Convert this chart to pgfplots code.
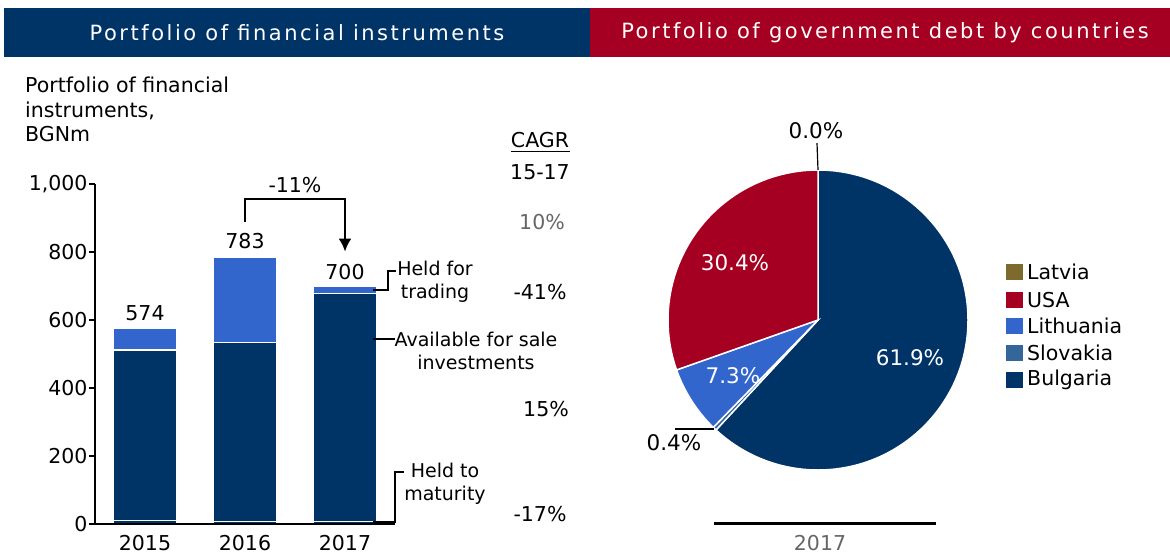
\documentclass[border=0pt]{standalone}
\usepackage{pgfplots}
\pgfplotsset{compat=1.18}
\usepackage{fontspec}
\setmainfont{DejaVu Sans}
\newfontfamily\headfont[LetterSpace=12]{DejaVu Sans}
\usetikzlibrary{arrows.meta}
\definecolor{navy}{HTML}{003366}
\definecolor{crimson}{HTML}{A50021}
\definecolor{lblue}{HTML}{3366CC}
\definecolor{sblue}{HTML}{336699}
\definecolor{olive}{HTML}{7F6A2E}
\definecolor{gtxt}{HTML}{666666}
\newcommand\fs{\fontsize{20.5}{24.5}\selectfont}
\newcommand\fsm{\fontsize{19}{23}\selectfont}
\newcommand\fl{\fontsize{20.5}{24.5}\selectfont}
\begin{document}
\begin{tikzpicture}[x=1pt,y=1pt]
\path (0,0) rectangle (1170,-553);
% headers
\fill[navy] (4,-8) rectangle (590,-57);
\fill[crimson] (590,-8) rectangle (1170,-57);
\node[white] at (297,-33) {\headfont\fontsize{21}{24}\selectfont Portfolio of financial instruments};
\node[white] at (885,-33) {\headfont\fontsize{21}{24}\selectfont Portfolio of government debt by countries};
% y label
\node[anchor=north west, align=left, inner sep=0pt, font=\fl] at (25,-77) {Portfolio of financial\\ instruments,\\ BGNm};
% bar chart
\begin{axis}[at={(95pt,-524pt)}, anchor=south west, scale only axis,
  width=300pt, height=340pt,
  xmin=-0.5, xmax=2.5, ymin=0, ymax=1000,
  ybar stacked, bar width=64pt, clip=false, axis on top,
  axis lines=left, axis line style={line width=2.5pt, -},
  xtick={0,1,2}, xticklabels={2015,2016,2017},
  x tick style={draw=none},
  ytick={0,200,400,600,800,1000},
  y tick style={line width=2pt, black}, tick align=outside, major tick length=6pt,
  /pgf/number format/1000 sep={,},
  /pgf/number format/assume math mode=true,
  tick label style={font=\fs},
  yticklabel style={xshift=2pt},
  xticklabel style={yshift=-2pt},
]
\addplot[fill=navy, draw=white, line width=1.2pt] coordinates {(0,10) (1,8) (2,7)};
\addplot[fill=navy, draw=white, line width=1.2pt] coordinates {(0,502) (1,525) (2,671)};
\addplot[fill=lblue, draw=white, line width=1.2pt] coordinates {(0,62) (1,250) (2,22)};
\node[above=5pt, font=\fs] at (axis cs:0,574) {574};
\node[above=5pt, font=\fs] at (axis cs:1,783) {783};
\node[above=3pt, font=\fs] at (axis cs:2,700) {700};
\draw[line width=2.5pt, -{Latex[length=13pt,width=13pt]}] (axis cs:1,888) |- (axis cs:2,956) -- (axis cs:2,801);
\node[above=3pt, font=\fs] at (axis cs:1.5,956) {-11\%};
\end{axis}
% leaders
\draw[line width=1.3pt] (373,-290) -- (388,-290) -- (388,-271) -- (396,-271);
\node[align=center, inner sep=0pt, font=\fsm] at (435,-282) {Held for\\ trading};
\draw[line width=1.3pt] (373,-339) -- (395,-339);
\node[align=center, inner sep=0pt, font=\fsm] at (476,-351) {Available for sale\\ investments};
\draw[line width=1.3pt] (373,-522) -- (395,-522) -- (395,-472) -- (404,-472);
\node[align=center, inner sep=0pt, font=\fsm] at (445,-484) {Held to\\ maturity};
% CAGR
\node[font=\fs] at (540,-140) {CAGR};
\draw[line width=1pt] (511,-151) -- (570,-151);
\node[font=\fs] at (540,-172) {15-17};
\node[text=gtxt, font=\fs] at (542,-222) {10\%};
\node[font=\fs] at (540,-292) {-41\%};
\node[font=\fs] at (546,-409) {15\%};
\node[font=\fs] at (540,-514) {-17\%};
% pie
\def\pBul{61.9}\def\pSlo{0.4}\def\pLit{7.3}\def\pUSA{30.4}\def\pLat{0.0}
\begin{axis}[at={(818pt,-320pt)}, anchor=center, scale only axis,
  width=300pt, height=300pt, xmin=-1, xmax=1, ymin=-1, ymax=1,
  hide axis, clip=false]
\pgfmathsetmacro\aA{90}
\pgfmathsetmacro\aB{90-3.6*\pBul}
\pgfmathsetmacro\aC{\aB-3.6*\pSlo}
\pgfmathsetmacro\aD{\aC-3.6*\pLit}
\pgfmathsetmacro\aE{\aD-3.6*\pUSA}
\fill[navy, draw=white, line width=1.5pt] (axis cs:0,0) -- ++(\aA:150pt) arc[start angle=\aA, end angle=\aB, radius=150pt] -- cycle;
\fill[sblue, draw=white, line width=1.5pt] (axis cs:0,0) -- ++(\aB:150pt) arc[start angle=\aB, end angle=\aC, radius=150pt] -- cycle;
\fill[lblue, draw=white, line width=1.5pt] (axis cs:0,0) -- ++(\aC:150pt) arc[start angle=\aC, end angle=\aD, radius=150pt] -- cycle;
\fill[crimson, draw=white, line width=1.5pt] (axis cs:0,0) -- ++(\aD:150pt) arc[start angle=\aD, end angle=\aE, radius=150pt] -- cycle;
\end{axis}
% pie labels
\node[text=white, font=\fontsize{21.5}{25}\selectfont] at (735,-263) {30.4\%};
\node[text=white, font=\fontsize{21.5}{25}\selectfont] at (910,-358) {61.9\%};
\node[text=white, font=\fontsize{21.5}{25}\selectfont] at (733,-376) {7.3\%};
\node[font=\fontsize{21.5}{25}\selectfont] at (816,-131) {0.0\%};
\draw[line width=1.2pt] (817,-143) -- (818,-170);
\node[font=\fontsize{21.5}{25}\selectfont] at (674,-443) {0.4\%};
\draw[line width=1.2pt] (675,-429) -- (714,-429);
\draw[line width=3pt] (714,-523) -- (936,-523);
\node[text=gtxt, font=\fs] at (820,-543) {2017};
% legend
\foreach \c/\n/\y in {olive/Latvia/272, crimson/USA/300, lblue/Lithuania/326, sblue/Slovakia/353, navy/Bulgaria/380}{
  \fill[\c] (1006,-\y+8) rectangle (1023,-\y-8);
  \node[anchor=west, inner sep=0pt, font=\fs] at (1027,-\y) {\n};
}
\end{tikzpicture}
\end{document}
